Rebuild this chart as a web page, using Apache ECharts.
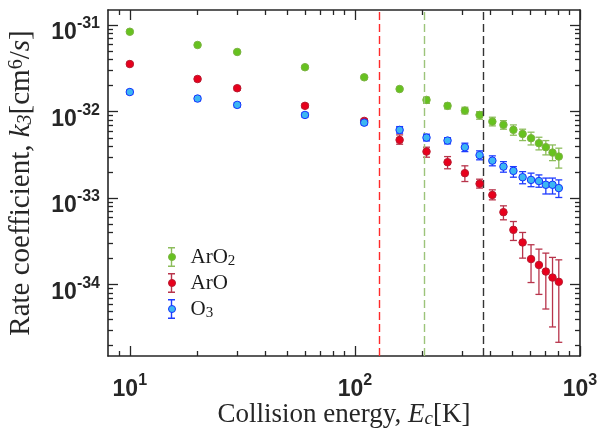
<!DOCTYPE html>
<html><head><meta charset="utf-8">
<script src="https://cdn.jsdelivr.net/npm/echarts@6/dist/echarts.min.js"></script>
<style>html,body{margin:0;padding:0;background:#fff}#c{width:608px;height:428px}</style>
</head><body><div id="c"></div>
<script>
// ---------- data ----------
const energy = [10, 20, 30, 60, 110, 158, 208, 258, 308, 358, 408, 457, 506, 556, 606, 657, 705, 755, 805];

const arO2    = [8.41e-32, 5.91e-32, 4.91e-32, 3.27e-32, 2.50e-32, 1.83e-32, 1.37e-32, 1.17e-32, 1.03e-32, 9.18e-33, 7.69e-33, 7.05e-33, 6.17e-33, 5.54e-33, 4.94e-33, 4.33e-33, 3.89e-33, 3.37e-33, 3.03e-33];
const arO2Hi  = [8.70e-32, 6.10e-32, 5.07e-32, 3.38e-32, 2.58e-32, 1.90e-32, 1.47e-32, 1.25e-32, 1.127e-32, 1.003e-32, 8.64e-33, 7.89e-33, 7.04e-33, 6.28e-33, 5.80e-33, 5.07e-33, 4.64e-33, 4.13e-33, 3.79e-33];
const arO2Lo  = [8.10e-32, 5.72e-32, 4.75e-32, 3.16e-32, 2.42e-32, 1.76e-32, 1.25e-32, 1.077e-32, 9.43e-33, 8.19e-33, 6.86e-33, 6.28e-33, 5.35e-33, 4.64e-33, 4.13e-33, 3.62e-33, 3.17e-33, 2.72e-33, 2.23e-33];

const arO     = [3.56e-32, 2.39e-32, 1.87e-32, 1.17e-32, 7.83e-33, 4.72e-33, 3.46e-33, 2.61e-33, 1.95e-33, 1.47e-33, 1.09e-33, 6.90e-34, 4.31e-34, 3.08e-34, 1.98e-34, 1.69e-34, 1.42e-34, 1.21e-34, 1.08e-34];
const arOHi   = [3.72e-32, 2.50e-32, 1.96e-32, 1.23e-32, 8.20e-33, 5.40e-33, 3.89e-33, 3.03e-33, 2.37e-33, 1.66e-33, 1.25e-33, 8.17e-34, 5.38e-34, 4.02e-34, 2.90e-34, 2.58e-34, 2.32e-34, 2.07e-34, 1.94e-34];
const arOLo   = [3.40e-32, 2.28e-32, 1.78e-32, 1.11e-32, 7.45e-33, 4.21e-33, 2.98e-33, 2.19e-33, 1.56e-33, 1.31e-33, 9.58e-34, 5.63e-34, 3.25e-34, 2.03e-34, 1.06e-34, 7.73e-35, 5.24e-35, 3.25e-35, 2.16e-35];

const o3      = [1.69e-32, 1.42e-32, 1.20e-32, 9.18e-33, 7.48e-33, 6.16e-33, 5.02e-33, 4.64e-33, 3.89e-33, 3.15e-33, 2.72e-33, 2.32e-33, 2.07e-33, 1.75e-33, 1.63e-33, 1.58e-33, 1.43e-33, 1.43e-33, 1.31e-33];
const o3Hi    = [1.78e-32, 1.50e-32, 1.27e-32, 9.70e-33, 7.90e-33, 6.73e-33, 5.50e-33, 5.02e-33, 4.33e-33, 3.53e-33, 3.09e-33, 2.65e-33, 2.32e-33, 2.03e-33, 1.95e-33, 1.86e-33, 1.71e-33, 1.71e-33, 1.63e-33];
const o3Lo    = [1.60e-32, 1.34e-32, 1.13e-32, 8.67e-33, 7.07e-33, 5.65e-33, 4.60e-33, 4.25e-33, 3.46e-33, 2.78e-33, 2.37e-33, 2.00e-33, 1.75e-33, 1.47e-33, 1.36e-33, 1.34e-33, 1.12e-33, 1.12e-33, 1.02e-33];

const seriesNames = ['ArO2', 'ArO', 'O3'];
const thresholdEnergies = [130, 206, 372];
const xRange = [8, 1000];
const yRange = [1.5e-35, 1.5e-31];
const xTickExponents = [1, 2, 3];
const yTickExponents = [-34, -33, -32, -31];

// ---------- styling ----------
const SANS = 'Liberation Sans';
const SERIF = 'Liberation Serif';
const AX = '#262626';
const markerFill = ['#66c21f', '#e8001c', '#3cb6f2'];
const markerBorder = ['#7cb342', '#b81a30', '#1432ff'];
const errColor = ['#8dbd5c', '#b8344b', '#1f3cff'];
const dashColor = ['#ff2a2a', '#9cc47a', '#333333'];

const L = Math.log10;
const xMin = L(xRange[0]), xMax = L(xRange[1]);
const yMin = L(yRange[0]), yMax = L(yRange[1]);

function minorTicks(lo, hi, nLo, nHi) {
  const out = [];
  for (let n = nLo; n <= nHi; n++) for (let k = 2; k <= 9; k++) {
    const v = n + L(k);
    if (v > lo && v < hi) out.push(v);
  }
  return out;
}
const xMinor = minorTicks(xMin, xMax, 0, 2);
const yMinor = minorTicks(yMin, yMax, -35, -31);

const xTickRich = {
  b: {fontFamily: SANS, fontWeight: 'bold', fontSize: 23, lineHeight: 24, padding: [7, 0, 0, 0], color: AX},
  s: {fontFamily: SANS, fontWeight: 'bold', fontSize: 16, lineHeight: 18, padding: [0, 0, 11, 0], color: AX}
};
const yTickRich = {
  b: {fontFamily: SANS, fontWeight: 'bold', fontSize: 23, lineHeight: 24, padding: [15, 0, 0, 0], color: AX},
  s: {fontFamily: SANS, fontWeight: 'bold', fontSize: 16, lineHeight: 18, padding: [0, 0, 3, 0], color: AX}
};
const tickFmt = v => '{b|10}{s|' + Math.round(v) + '}';

function xAxisDef(pos, major, withLabel, extra) {
  return Object.assign({
    type: 'value', position: pos, min: xMin, max: xMax,
    axisLine: {show: major, onZero: false, lineStyle: {color: AX, width: 1.6}},
    axisTick: {show: true, inside: true, length: major ? 10 : 5,
      customValues: major ? xTickExponents : xMinor, lineStyle: {color: AX, width: 1.3}},
    axisLabel: withLabel ? {show: true, customValues: xTickExponents, formatter: tickFmt, margin: 18, rich: xTickRich}
                         : {show: false},
    splitLine: {show: false}
  }, extra || {});
}
function yAxisDef(pos, major, withLabel, extra) {
  return Object.assign({
    type: 'value', position: pos, min: yMin, max: yMax,
    axisLine: {show: major, onZero: false, lineStyle: {color: AX, width: 1.6}},
    axisTick: {show: true, inside: true, length: major ? 10 : 5,
      customValues: major ? yTickExponents : yMinor, lineStyle: {color: AX, width: 1.3}},
    axisLabel: withLabel ? {show: true, customValues: yTickExponents, formatter: tickFmt, margin: 8, rich: yTickRich}
                         : {show: false},
    splitLine: {show: false}
  }, extra || {});
}

function serifRich(fs) {
  return {
    i: {fontFamily: SERIF, fontStyle: 'italic', fontSize: fs, color: AX},
    sub: {fontFamily: SERIF, fontStyle: 'italic', fontSize: Math.round(fs * 0.7), lineHeight: 18, padding: [9, 0, 0, 0], color: AX},
    sup: {fontFamily: SERIF, fontSize: Math.round(fs * 0.7), lineHeight: 18, padding: [0, 0, 10, 0], color: AX}
  };
}

// ---------- series ----------
function errRender(color) {
  return function (params, api) {
    const x = api.value(0);
    const pLo = api.coord([x, api.value(1)]);
    const pHi = api.coord([x, api.value(2)]);
    const w = 3.5;
    const st = {stroke: color, lineWidth: 1.3};
    return {type: 'group', children: [
      {type: 'line', shape: {x1: pHi[0], y1: pHi[1], x2: pLo[0], y2: pLo[1]}, style: st},
      {type: 'line', shape: {x1: pHi[0] - w, y1: pHi[1], x2: pHi[0] + w, y2: pHi[1]}, style: st},
      {type: 'line', shape: {x1: pLo[0] - w, y1: pLo[1], x2: pLo[0] + w, y2: pLo[1]}, style: st}
    ]};
  };
}
const groups = [[arO2, arO2Lo, arO2Hi], [arO, arOLo, arOHi], [o3, o3Lo, o3Hi]];
const series = [];
groups.forEach((g, i) => {
  series.push({
    type: 'custom', name: seriesNames[i], renderItem: errRender(errColor[i]),
    encode: {x: 0, y: [1, 2]},
    data: energy.map((e, j) => [L(e), L(g[1][j]), L(g[2][j])]),
    z: 2 + i * 2, silent: true
  });
  const sc = {
    type: 'scatter', name: seriesNames[i], symbol: 'circle', symbolSize: 7.5,
    itemStyle: {color: markerFill[i], borderColor: markerBorder[i], borderWidth: 1, opacity: 1},
    data: energy.map((e, j) => [L(e), L(g[0][j])]),
    z: 3 + i * 2, silent: true
  };
  if (i === 0) {
    sc.markLine = {
      silent: true, symbol: ['none', 'none'], label: {show: false}, animation: false,
      lineStyle: {type: [8, 4], width: 1.4},
      data: thresholdEnergies.map((t, k) => ({xAxis: L(t), lineStyle: {color: dashColor[k], type: [8, 4], width: 1.4, opacity: 1}}))
    };
  }
  series.push(sc);
});

const legendFmt = n => n.replace(/(\d)$/, '{sub|$1}');
const IBEAM = 'path://M0,0H7V1.4H4.2V18.6H7V20H0V18.6H2.8V1.4H0Z';
function legendDef(isDot) {
  const tc = isDot ? 'rgba(0,0,0,0)' : '#1a1a1a';
  return {
    orient: 'vertical', left: 168, top: 244, itemWidth: 28, itemHeight: isDot ? 7 : 20, itemGap: 0, padding: 0,
    selectedMode: false, formatter: legendFmt,
    textStyle: {fontFamily: SERIF, fontSize: 21, lineHeight: 26, color: tc,
      rich: {sub: {fontFamily: SERIF, fontSize: 15, lineHeight: 16, padding: [8, 0, 0, 0], color: tc}}},
    data: seriesNames.map((n, i) => isDot
      ? {name: n, icon: 'circle', itemStyle: {color: markerFill[i], borderColor: markerBorder[i], borderWidth: 1}}
      : {name: n, icon: IBEAM, itemStyle: {color: errColor[i], borderWidth: 0}})
  };
}

const option = {
  animation: false,
  backgroundColor: '#fff',
  grid: {left: 108, right: 28, top: 10, bottom: 72, containLabel: false, outerBoundsMode: 'none'},
  xAxis: [
    xAxisDef('bottom', true, true, {
      name: 'Collision energy, {i|E}{sub|c}[K]', nameLocation: 'middle', nameGap: 45, nameMoveOverlap: false,
      nameTextStyle: {fontFamily: SERIF, fontSize: 27, color: AX, rich: serifRich(27)}
    }),
    xAxisDef('bottom', false, false),
    xAxisDef('top', true, false),
    xAxisDef('top', false, false)
  ],
  yAxis: [
    yAxisDef('left', true, true, {
      name: 'Rate coefficient, {i|k}{sub|3}[cm{sup|6}/{i|s}]', nameLocation: 'middle', nameRotate: 90, nameGap: 72,
      nameMoveOverlap: false,
      nameTextStyle: {fontFamily: SERIF, fontSize: 29, color: AX, rich: serifRich(29)}
    }),
    yAxisDef('left', false, false),
    yAxisDef('right', true, false),
    yAxisDef('right', false, false)
  ],
  legend: [legendDef(false), legendDef(true)],
  series: series
};

const chart = echarts.init(document.getElementById('c'), null, {renderer: 'canvas'});
chart.setOption(option);
</script>
</body></html>
